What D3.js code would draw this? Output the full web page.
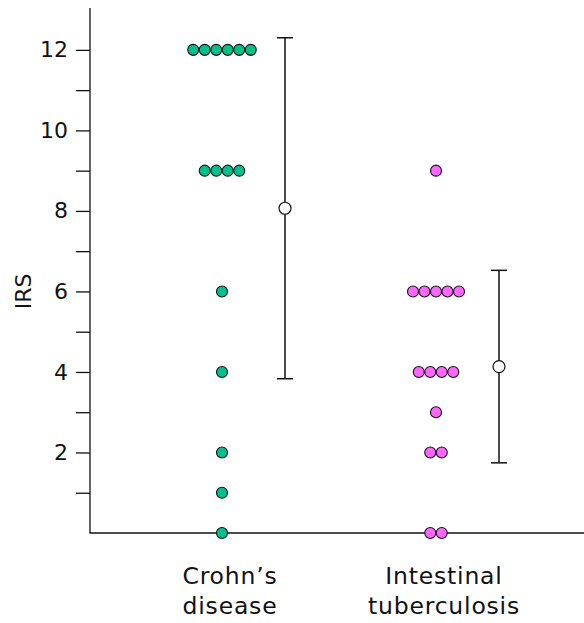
<!DOCTYPE html>
<html>
<head>
<meta charset="utf-8">
<script src="https://cdn.jsdelivr.net/npm/d3@7"></script>
<style>
  body { margin: 0; background: #fff; }
  text { font-family: "DejaVu Sans", sans-serif; fill: #111; }
</style>
</head>
<body>
<svg id="chart"></svg>
<script>
var categories = ["Crohn\u2019s disease", "Intestinal tuberculosis"];
var labelLines = [["Crohn\u2019s", "disease"], ["Intestinal", "tuberculosis"]];
var colors = ["#00c08b", "#ff66ff"];

// IRS score of each patient
var crohnValues = [12, 12, 12, 12, 12, 12, 9, 9, 9, 9, 6, 4, 2, 1, 0];
var tbValues = [9, 6, 6, 6, 6, 6, 4, 4, 4, 4, 3, 2, 2, 0, 0];
var seriesValues = [crohnValues, tbValues];

var yTicks = [1, 2, 3, 4, 5, 6, 7, 8, 9, 10, 11, 12];
var yTickLabels = [2, 4, 6, 8, 10, 12];

var width = 584;
var height = 623;

var svg = d3.select("#chart")
    .attr("width", width)
    .attr("height", height);

var yScale = d3.scaleLinear()
    .domain([0, 13.04])
    .range([533, 8]);

var xScale = d3.scalePoint()
    .domain(categories)
    .range([222, 436]);

var dotR = 5.5;
var dotGap = 11.5;
var barOffset = 63;

// y axis
var y_axis = d3.axisLeft(yScale)
    .tickValues(yTicks)
    .tickSize(14)
    .tickPadding(8)
    .tickFormat(function (d) {
        return yTickLabels.indexOf(d) >= 0 ? d : "";
    });

var yg = svg.append("g")
    .attr("transform", "translate(90,0)")
    .call(y_axis);
yg.select(".domain").attr("d", "M0," + yScale.range()[1] + "V" + yScale.range()[0]).attr("stroke", "#111").attr("stroke-width", 1.3);
yg.selectAll(".tick line").attr("stroke", "#111").attr("stroke-width", 1.3);
yg.selectAll(".tick text").style("font-size", "22px").attr("fill", "#111");

// x axis line
svg.append("line")
    .attr("x1", 89.5).attr("x2", width)
    .attr("y1", yScale(0)).attr("y2", yScale(0))
    .attr("stroke", "#111").attr("stroke-width", 1.3);

svg.append("text")
    .attr("transform", "translate(31," + yScale(6) + ") rotate(-90)")
    .attr("text-anchor", "middle")
    .style("font-size", "22px")
    .text("IRS");

// error bars (mean +/- SD)
seriesValues.forEach(function (vals, i) {
    var m = d3.mean(vals);
    var sd = Math.sqrt(d3.mean(vals, function (v) { return (v - m) * (v - m); }));
    var cx = xScale(categories[i]) + barOffset;
    var g = svg.append("g");
    g.append("line")
        .attr("x1", cx).attr("x2", cx)
        .attr("y1", yScale(m - sd)).attr("y2", yScale(m + sd))
        .attr("stroke", "#111").attr("stroke-width", 1.5);
    [m - sd, m + sd].forEach(function (v) {
        g.append("line")
            .attr("x1", cx - 8).attr("x2", cx + 8)
            .attr("y1", yScale(v)).attr("y2", yScale(v))
            .attr("stroke", "#111").attr("stroke-width", 1.5);
    });
    g.append("circle")
        .attr("cx", cx).attr("cy", yScale(m))
        .attr("r", 6)
        .attr("fill", "#fff")
        .attr("stroke", "#111").attr("stroke-width", 1.2);
});

// dots, spread sideways when they share a value
seriesValues.forEach(function (vals, i) {
    var groups = d3.group(vals, function (v) { return v; });
    var points = [];
    groups.forEach(function (arr, v) {
        arr.forEach(function (_, j) {
            points.push({ v: v, off: (j - (arr.length - 1) / 2) * dotGap });
        });
    });
    svg.append("g").selectAll("circle")
        .data(points)
        .enter()
        .append("circle")
        .attr("cx", function (d) { return xScale(categories[i]) + d.off; })
        .attr("cy", function (d) { return yScale(d.v); })
        .attr("r", dotR)
        .attr("fill", colors[i])
        .attr("stroke", "#111")
        .attr("stroke-width", 1.1);
});

// category labels
categories.forEach(function (c, i) {
    var t = svg.append("text")
        .attr("text-anchor", "middle")
        .style("font-size", "23.5px")
        .style("letter-spacing", "0.8px");
    labelLines[i].forEach(function (line, k) {
        t.append("tspan")
            .attr("x", xScale(c) + 8)
            .attr("y", 584 + k * 30)
            .text(line);
    });
});
</script>
</body>
</html>
